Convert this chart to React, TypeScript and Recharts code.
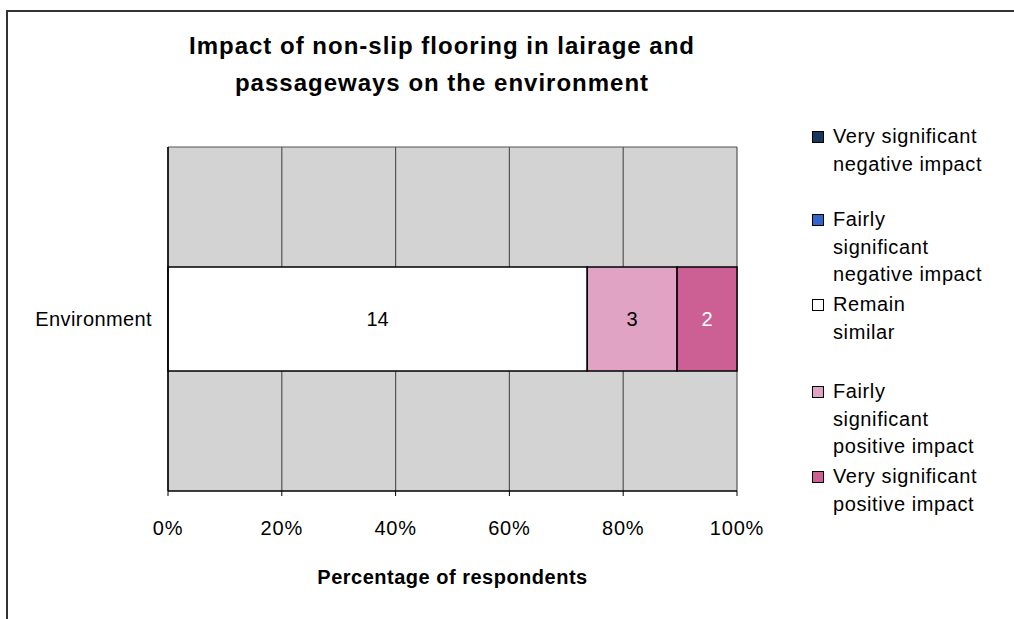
import { BarChart, Bar, XAxis, YAxis, CartesianGrid, LabelList } from "recharts";

const categories = ["Environment"];
const veryNegative = [0];
const fairlyNegative = [0];
const remainSimilar = [14];
const fairlyPositive = [3];
const veryPositive = [2];
const xTicks = [0, 0.2, 0.4, 0.6, 0.8, 1];

const series = [
  { key: "vn", name: "Very significant\nnegative impact", color: "#17375e", label: "#fff" },
  { key: "fn", name: "Fairly\nsignificant\nnegative impact", color: "#3366cc", label: "#fff" },
  { key: "rs", name: "Remain\nsimilar", color: "#ffffff", label: "#000" },
  { key: "fp", name: "Fairly\nsignificant\npositive impact", color: "#e0a3c4", label: "#000" },
  { key: "vp", name: "Very significant\npositive impact", color: "#cc6095", label: "#fff" },
];

const data = categories.map((name, i) => ({
  name,
  vn: veryNegative[i],
  fn: fairlyNegative[i],
  rs: remainSimilar[i],
  fp: fairlyPositive[i],
  vp: veryPositive[i],
}));

const FONT = "'Liberation Sans', Arial, sans-serif";
// top of each legend entry
const legendTops = [123, 206, 291, 378, 463];

function LegendBox() {
  return (
    <div style={{ position: "absolute", left: 812, top: 0, fontFamily: FONT, fontSize: 20, color: "#000" }}>
      {series.map((s, i) => (
        <div key={s.key} style={{ position: "absolute", top: legendTops[i], left: 0, display: "flex" }}>
          <div
            style={{
              width: 10,
              height: 10,
              marginTop: 8,
              marginRight: 9,
              background: s.color,
              border: "1.5px solid #000",
              flexShrink: 0,
            }}
          />
          <div style={{ whiteSpace: "pre", lineHeight: "27.5px", letterSpacing: 0.6 }}>{s.name}</div>
        </div>
      ))}
    </div>
  );
}

export default function App() {
  return (
    <div style={{ position: "absolute", left: 0, top: 0, width: 1014, height: 619, background: "#fff", fontFamily: FONT, overflow: "hidden" }}>
      <div
        style={{
          position: "absolute",
          left: 6,
          top: 10,
          width: 1014,
          height: 619,
          borderLeft: "2px solid #333",
          borderTop: "2px solid #333",
        }}
      />
      <div
        style={{
          position: "absolute",
          left: 0,
          width: 884,
          top: 27,
          textAlign: "center",
          fontWeight: "bold",
          fontSize: 24,
          letterSpacing: 1,
          lineHeight: "37px",
          color: "#000",
        }}
      >
        Impact of non-slip flooring in lairage and
        <br />
        passageways on the environment
      </div>
      <BarChart
        width={1014}
        height={619}
        data={data}
        layout="vertical"
        stackOffset="expand"
        barCategoryGap={120}
        margin={{ top: 147, right: 277, bottom: 58, left: 18 }}
        style={{ position: "absolute", left: 0, top: 0 }}
      >
        <CartesianGrid
          fill="#d3d3d3"
          stroke="#555"
          strokeWidth={1.2}
          vertical
          horizontal
          horizontalCoordinatesGenerator={(p: any) => [p.offset.top]}
        />
        <XAxis
          type="number"
          domain={[0, 1]}
          ticks={xTicks}
          tickFormatter={(v: number) => `${Math.round(v * 100)}%`}
          tick={{ fontSize: 20, fill: "#000", fontFamily: FONT, letterSpacing: 0.8 }}
          tickLine={{ stroke: "#000" }}
          tickSize={5}
          tickMargin={25}
          axisLine={{ stroke: "#000", strokeWidth: 1.5 }}
          height={70}
          label={{
            value: "Percentage of respondents",
            position: "insideBottom",
            offset: -23,
            fontSize: 20,
            fontWeight: "bold",
            fill: "#000",
            fontFamily: FONT,
            letterSpacing: 0.5,
          }}
        />
        <YAxis
          type="category"
          dataKey="name"
          width={150}
          tick={{ fontSize: 20, fill: "#000", fontFamily: FONT, letterSpacing: 0.4 }}
          tickLine={false}
          tickMargin={10}
          axisLine={{ stroke: "#000", strokeWidth: 1.5 }}
        />
        {series.map((s) => (
          <Bar
            key={s.key}
            dataKey={s.key}
            stackId="a"
            fill={s.color}
            stroke="#000"
            strokeWidth={1.5}
            isAnimationActive={false}
          >
            <LabelList
              dataKey={s.key}
              position="center"
              fill={s.label}
              fontSize={20}
              fontFamily={FONT}
              formatter={(v: any) => (v ? v : "")}
            />
          </Bar>
        ))}
      </BarChart>
      <LegendBox />
    </div>
  );
}
